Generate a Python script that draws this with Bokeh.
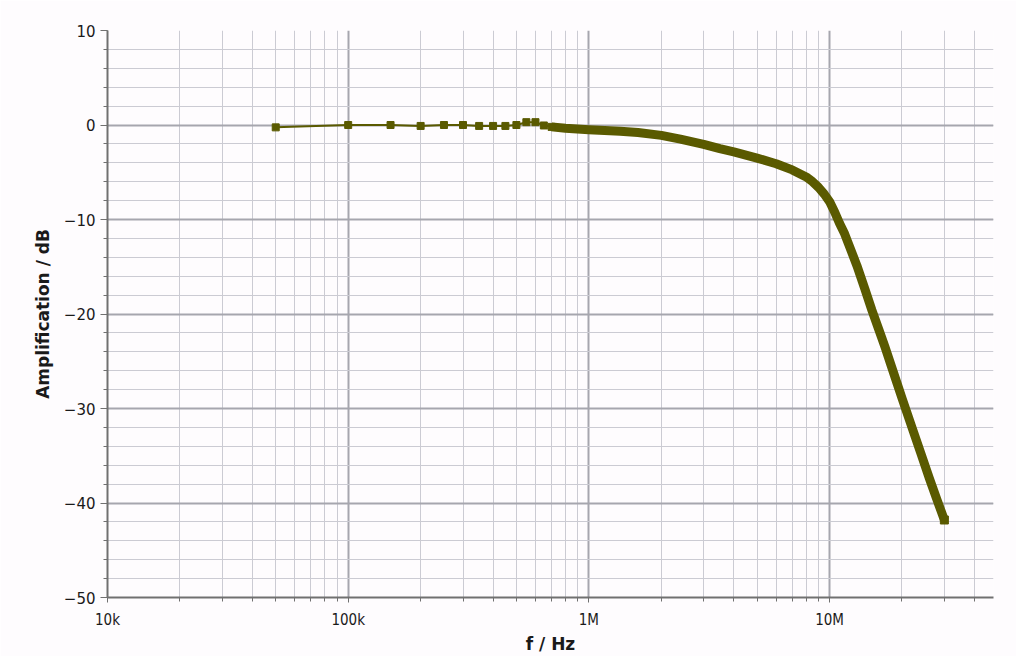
from bokeh.plotting import figure
from bokeh.models import FixedTicker, CustomJSTickFormatter, Range1d
from bokeh.embed import file_html
from bokeh.resources import INLINE

# ---- data ----
# sparse low-frequency measurement points (Hz, dB)
low_freq = [50e3, 100e3, 150e3, 200e3, 250e3, 300e3, 350e3, 400e3, 450e3,
            500e3, 550e3, 600e3, 650e3, 700e3]
low_db = [-0.25, 0.0, 0.0, -0.1, 0.0, 0.0, -0.1, -0.1, -0.1,
          0.0, 0.3, 0.3, -0.05, -0.2]

# densely sampled region (drawn as a thick band in the reference)
dense_freq = [700e3, 800e3, 1.0e6, 1.35e6, 1.6e6, 2.0e6, 2.4e6, 3.0e6, 3.5e6,
              4.0e6, 5.0e6, 6.0e6, 7.0e6, 8.0e6, 8.5e6, 9.0e6, 9.5e6, 10e6,
              10.5e6, 11e6, 11.5e6, 12e6, 13e6, 14e6, 15e6, 16e6, 17e6, 18e6,
              19e6, 20e6, 22e6, 24e6, 26e6, 28e6, 30e6]
dense_db = [-0.2, -0.35, -0.5, -0.65, -0.8, -1.1, -1.5, -2.05, -2.5,
            -2.85, -3.5, -4.1, -4.75, -5.5, -6.0, -6.6, -7.3, -8.1,
            -9.2, -10.4, -11.4, -12.6, -14.9, -17.3, -19.6, -21.6, -23.5, -25.4,
            -27.2, -28.9, -32.0, -34.8, -37.4, -39.7, -41.8]

xtick_values = [1e4, 1e5, 1e6, 1e7]
xtick_labels = ["10k", "100k", "1M", "10M"]
ytick_values = [-50, -40, -30, -20, -10, 0, 10]

x_label = "f / Hz"
y_label = "Amplification / dB"

# ---- figure ----
OLIVE = "#5a5a00"

p = figure(width=1016, height=656, x_axis_type="log",
           x_range=Range1d(1e4, 4.8e7), y_range=Range1d(-50, 10),
           output_backend="svg", toolbar_location=None,
           min_border_left=107, min_border_right=23,
           min_border_top=30, min_border_bottom=58)
p.outline_line_color = None
p.background_fill_color = "#fefcfe"
p.border_fill_color = "#fefcfe"

x_minor = [m * d for d in xtick_values for m in range(2, 10) if m * d <= 4.8e7]
y_minor = list(range(-50, 11, 2))

p.xaxis.ticker = FixedTicker(ticks=xtick_values, minor_ticks=x_minor)
p.yaxis.ticker = FixedTicker(ticks=ytick_values, minor_ticks=y_minor)

p.xaxis.formatter = CustomJSTickFormatter(
    args=dict(vals=xtick_values, labs=xtick_labels),
    code="""
    for (let i = 0; i < vals.length; i++) {
        if (Math.abs(tick - vals[i]) / vals[i] < 1e-6) return labs[i];
    }
    return "";
""")
p.yaxis.formatter = CustomJSTickFormatter(code="""
    return tick < 0 ? "\u2212" + Math.abs(tick) : String(tick);
""")

for ax in (p.xaxis, p.yaxis):
    ax.axis_line_color = "#707070"
    ax.axis_line_width = 2
    ax.major_tick_line_color = "#707070"
    ax.minor_tick_line_color = "#707070"
    ax.major_tick_in = 0
    ax.minor_tick_in = 0
    ax.major_label_text_color = "#1a1a1a"
    ax.major_label_text_font_size = "15px"
    ax.axis_label_text_font_style = "bold"
    ax.axis_label_text_color = "#1a1a1a"
    ax.axis_label_text_font = "DejaVu Sans"
    ax.axis_label_text_font_size = "17px"

p.yaxis.major_tick_out = 7
p.yaxis.minor_tick_out = 4
p.xaxis.major_tick_out = 5
p.xaxis.minor_tick_out = 4
p.yaxis.major_label_text_font = "DejaVu Sans"
p.xaxis.major_label_text_font = "DejaVu Sans Condensed"
p.yaxis.axis_label = y_label
p.xaxis.axis_label = x_label
p.xaxis.axis_label_standoff = 2
p.yaxis.axis_label_standoff = 8
p.xaxis.major_label_standoff = 8

for g in (p.xgrid, p.ygrid):
    g.grid_line_color = "#a6a6ae"
    g.grid_line_width = 2
    g.minor_grid_line_color = "#cbcbd3"
    g.minor_grid_line_width = 1

# ---- glyphs ----
p.line(low_freq, low_db, line_color=OLIVE, line_width=2)
p.line(dense_freq, dense_db, line_color=OLIVE, line_width=9, line_join="round")
p.scatter(low_freq, low_db, marker="square", size=7, fill_color=OLIVE, line_color=OLIVE)
p.scatter(dense_freq[-1:], dense_db[-1:], marker="square", size=8,
          fill_color=OLIVE, line_color=OLIVE)

open("out.html", "w").write(file_html(p, INLINE))
